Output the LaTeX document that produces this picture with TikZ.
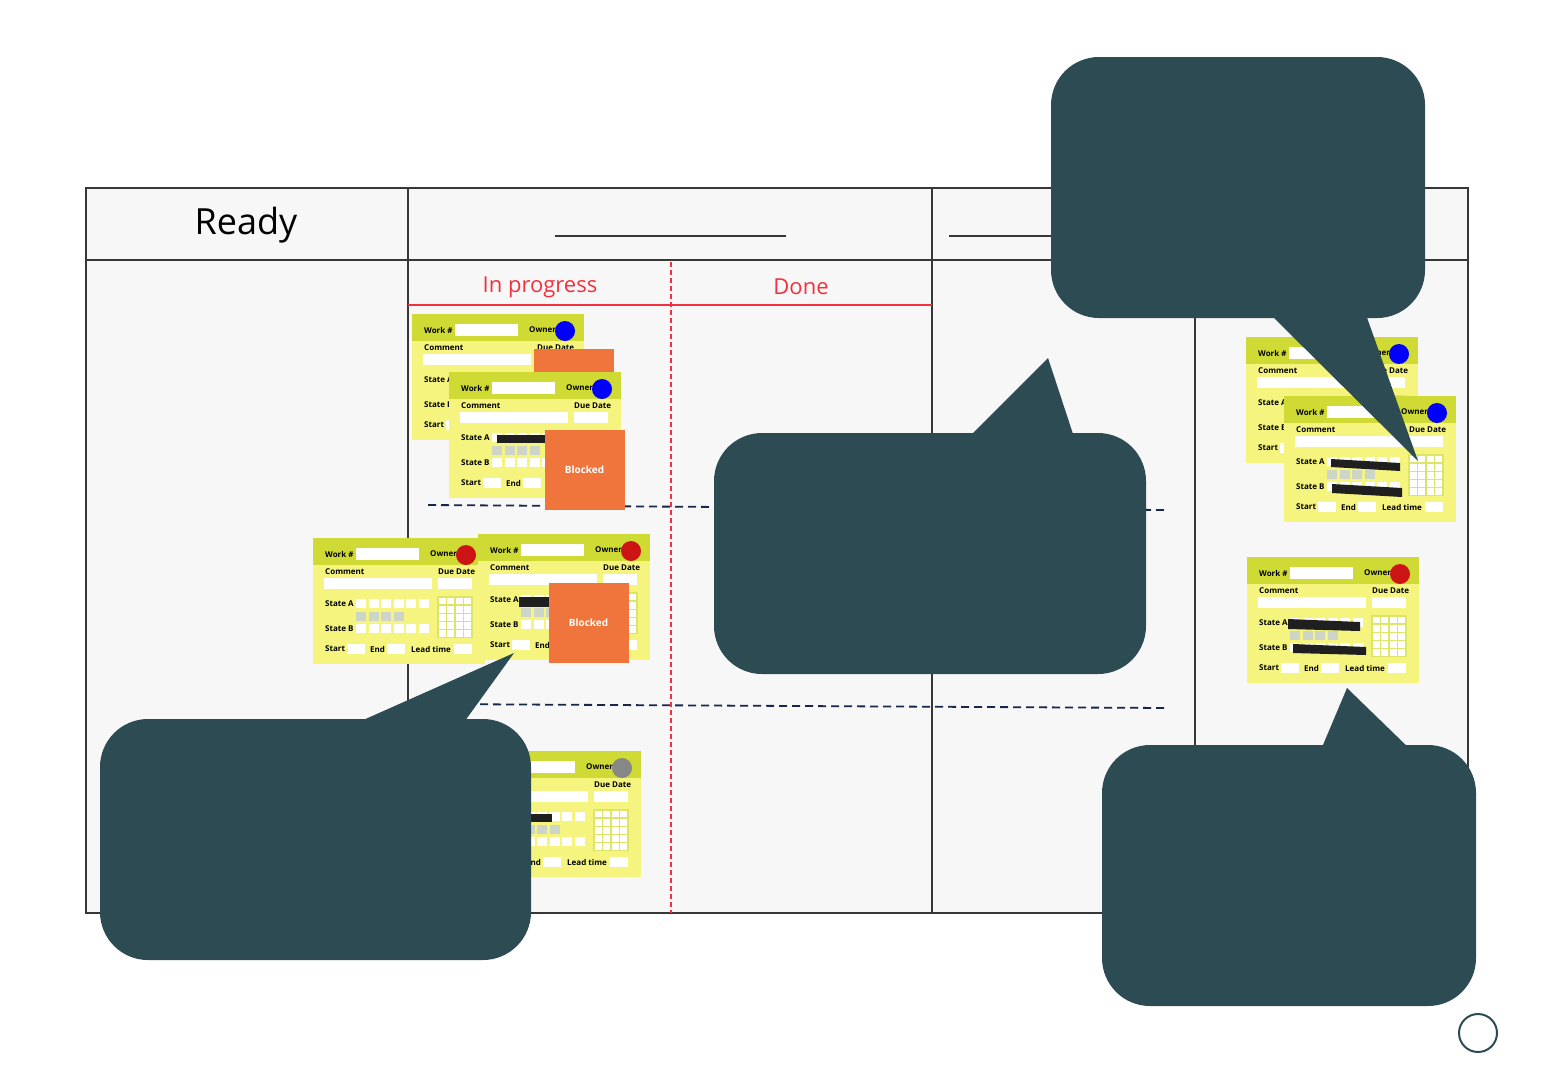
\documentclass[tikz,border=0pt]{standalone}
\usepackage{fontspec}
\setmainfont{Open Sans}
\usepackage{xcolor}
\usepackage{tikz}
\usetikzlibrary{positioning}
\definecolor{BoardGrey}{RGB}{247,247,247}
\definecolor{BoardLine}{RGB}{55,55,55}
\definecolor{LaneRed}{RGB}{240,50,62}
\definecolor{LaneNavy}{RGB}{24,38,72}
\definecolor{CardHead}{RGB}{208,218,52}
\definecolor{CardBody}{RGB}{244,244,126}
\definecolor{CardGrid}{RGB}{222,228,104}
\definecolor{SlotGrey}{RGB}{204,213,200}
\definecolor{BlockOrange}{RGB}{240,117,60}
\definecolor{NoteTeal}{RGB}{45,75,83}
\definecolor{OwnerBlue}{RGB}{0,0,250}
\definecolor{OwnerRed}{RGB}{205,20,20}
\definecolor{OwnerGrey}{RGB}{135,135,135}

% one sticky card: #1 name, #2/#3 top left corner, #4 owner colour
\newcommand{\kanbancard}[4]{%
  \begin{scope}[shift={(#2,#3)}]
    \fill[CardBody] (0,0) rectangle (172,126);
    \fill[CardHead] (0,0) rectangle (172,27);
    \node[cardtext] (#1-work) at (12,16) {Work \#};
    \fill[slot] (43,10) rectangle (106,22);
    \node[cardtext] (#1-owner) at (117,16) {Owner};
    \node[owner, fill=#4] (#1-dot) at (153,17) {};
    \node[cardtext] (#1-comment) at (12,34) {Comment};
    \fill[slot] (11,40) rectangle (119,51);
    \node[cardtext] (#1-due) at (125,34) {Due Date};
    \fill[slot] (125,40) rectangle (159,51);
    \node[cardtext] (#1-sa) at (12,66) {State A};
    \node[cardtext] (#1-sb) at (12,91) {State B};
    \foreach \i in {0,...,5} {
      \fill[slot] (43+12.5*\i,61) rectangle +(10,9);
      \fill[slot] (43+12.5*\i,86) rectangle +(10,9);
    }
    \foreach \i in {0,...,3}
      \fill[SlotGrey] (43+12.5*\i,74) rectangle +(10,9);
    \fill[CardGrid] (124,58) rectangle (160,100);
    \foreach \i in {0,...,3}
      \foreach \j in {0,...,4}
        \fill[slot] (125.5+8.6*\i,59.5+8.2*\j) rectangle +(7,6.8);
    \node[cardtext] (#1-start) at (12,111) {Start};
    \fill[slot] (34,106) rectangle (52,116);
    \node[cardtext] (#1-end) at (57,111) {End};
    \fill[slot] (74,106) rectangle (92,116);
    \node[cardtext] (#1-lead) at (98,111) {Lead time};
    \fill[slot] (141,106) rectangle (159,116);
  \end{scope}}

\begin{document}
\begin{tikzpicture}[x=1pt, y=-1pt,
    cardtext/.style={inner sep=0pt, anchor=west, font=\fontsize{8}{9}\selectfont\bfseries},
    slot/.style={fill=white},
    owner/.style={circle, inner sep=0pt, minimum size=20pt},
    blocked/.style={fill=BlockOrange, minimum size=80pt, inner sep=0pt, text=white,
      font=\fontsize{10}{12}\selectfont\bfseries},
    bar/.style={fill=black!88},
    frame/.style={draw=BoardLine, line width=1.8pt},
    lane/.style={draw=LaneNavy, line width=1.8pt, dash pattern=on 8pt off 5pt},
    note/.style={fill=NoteTeal, rounded corners=48pt, inner sep=0pt},
    title/.style={text=LaneRed, font=\fontsize{22}{26}\selectfont}]
  \useasboundingbox (0,0) rectangle (1560,1080);

  % board
  \fill[BoardGrey] (86,188) rectangle (1468,913);
  \draw[frame] (86,188) rectangle (1468,913);
  \draw[frame] (86,260) -- (1468,260);
  \draw[frame] (408,188) -- (408,913);
  \draw[frame] (932,188) -- (932,913);
  \draw[frame] (1195,188) -- (1195,913);
  \node[font=\fontsize{36}{40}\selectfont] (ready) at (246,225) {Ready};
  \draw[BoardLine, line width=1.4pt] (555,236) -- (786,236);
  \draw[BoardLine, line width=1.4pt] (949,236) -- (1100,236);

  % sub lanes
  \node[title] (prog) at (540,287) {In progress};
  \node[title] (done) at (801,287) {Done};
  \draw[LaneRed, line width=1.8pt] (408,305) -- (932,305);
  \draw[LaneRed, line width=1.4pt, dash pattern=on 5pt off 3pt] (671,262) -- (671,913);
  \draw[lane] (428,505) -- (1165,510);
  \draw[lane] (428,704) -- (1168,708);

  % cards
  \kanbancard{c1}{412}{314}{OwnerBlue}
  \node[blocked] (b1) at (574,389) {};
  \kanbancard{c2}{449}{372}{OwnerBlue}
  \fill[bar] (497,435) rectangle (545,443);
  \node[blocked] (b2) at (584.5,470) {Blocked};

  \kanbancard{c3}{313}{538}{OwnerRed}
  \kanbancard{c4}{478}{534}{OwnerRed}
  \fill[bar] (519,597) rectangle (550,607);
  \node[blocked] (b4) at (588.5,622.5) {Blocked};

  \kanbancard{c5}{469}{751}{OwnerGrey}
  \fill[bar] (512,814) rectangle (552,822);

  \kanbancard{c6}{1246}{337}{OwnerBlue}
  \kanbancard{c7}{1284}{396}{OwnerBlue}
  \fill[bar] (1331,459) -- (1400,463) -- (1400,471) -- (1331,467) -- cycle;
  \fill[bar] (1332,484) -- (1402,488) -- (1402,497) -- (1332,493) -- cycle;
  \kanbancard{c8}{1247}{557}{OwnerRed}
  \fill[bar] (1288,619) -- (1360,622) -- (1360,631) -- (1288,629) -- cycle;
  \fill[bar] (1293,644) -- (1366,647) -- (1366,655) -- (1293,653) -- cycle;

  % speech bubbles
  \node[note, minimum width=374pt, minimum height=261pt] (note1) at (1238,187.5) {};
  \fill[NoteTeal] (1268,312) -- (1418,461) -- (1365,312) -- cycle;
  \node[note, minimum width=432pt, minimum height=241pt] (note2) at (930,553.5) {};
  \fill[NoteTeal] (966,440) -- (1048,358) -- (1075,440) -- cycle;
  \node[note, minimum width=431pt, minimum height=241pt] (note3) at (315.5,839.5) {};
  \fill[NoteTeal] (352,725) -- (514,653) -- (462,725) -- cycle;
  \node[note, minimum width=374pt, minimum height=261pt] (note4) at (1289,875.5) {};
  \fill[NoteTeal] (1320,752) -- (1347,688) -- (1413,752) -- cycle;

  \node[circle, draw=NoteTeal, line width=2pt, minimum size=38pt] (knob) at (1478,1033) {};
\end{tikzpicture}
\end{document}
